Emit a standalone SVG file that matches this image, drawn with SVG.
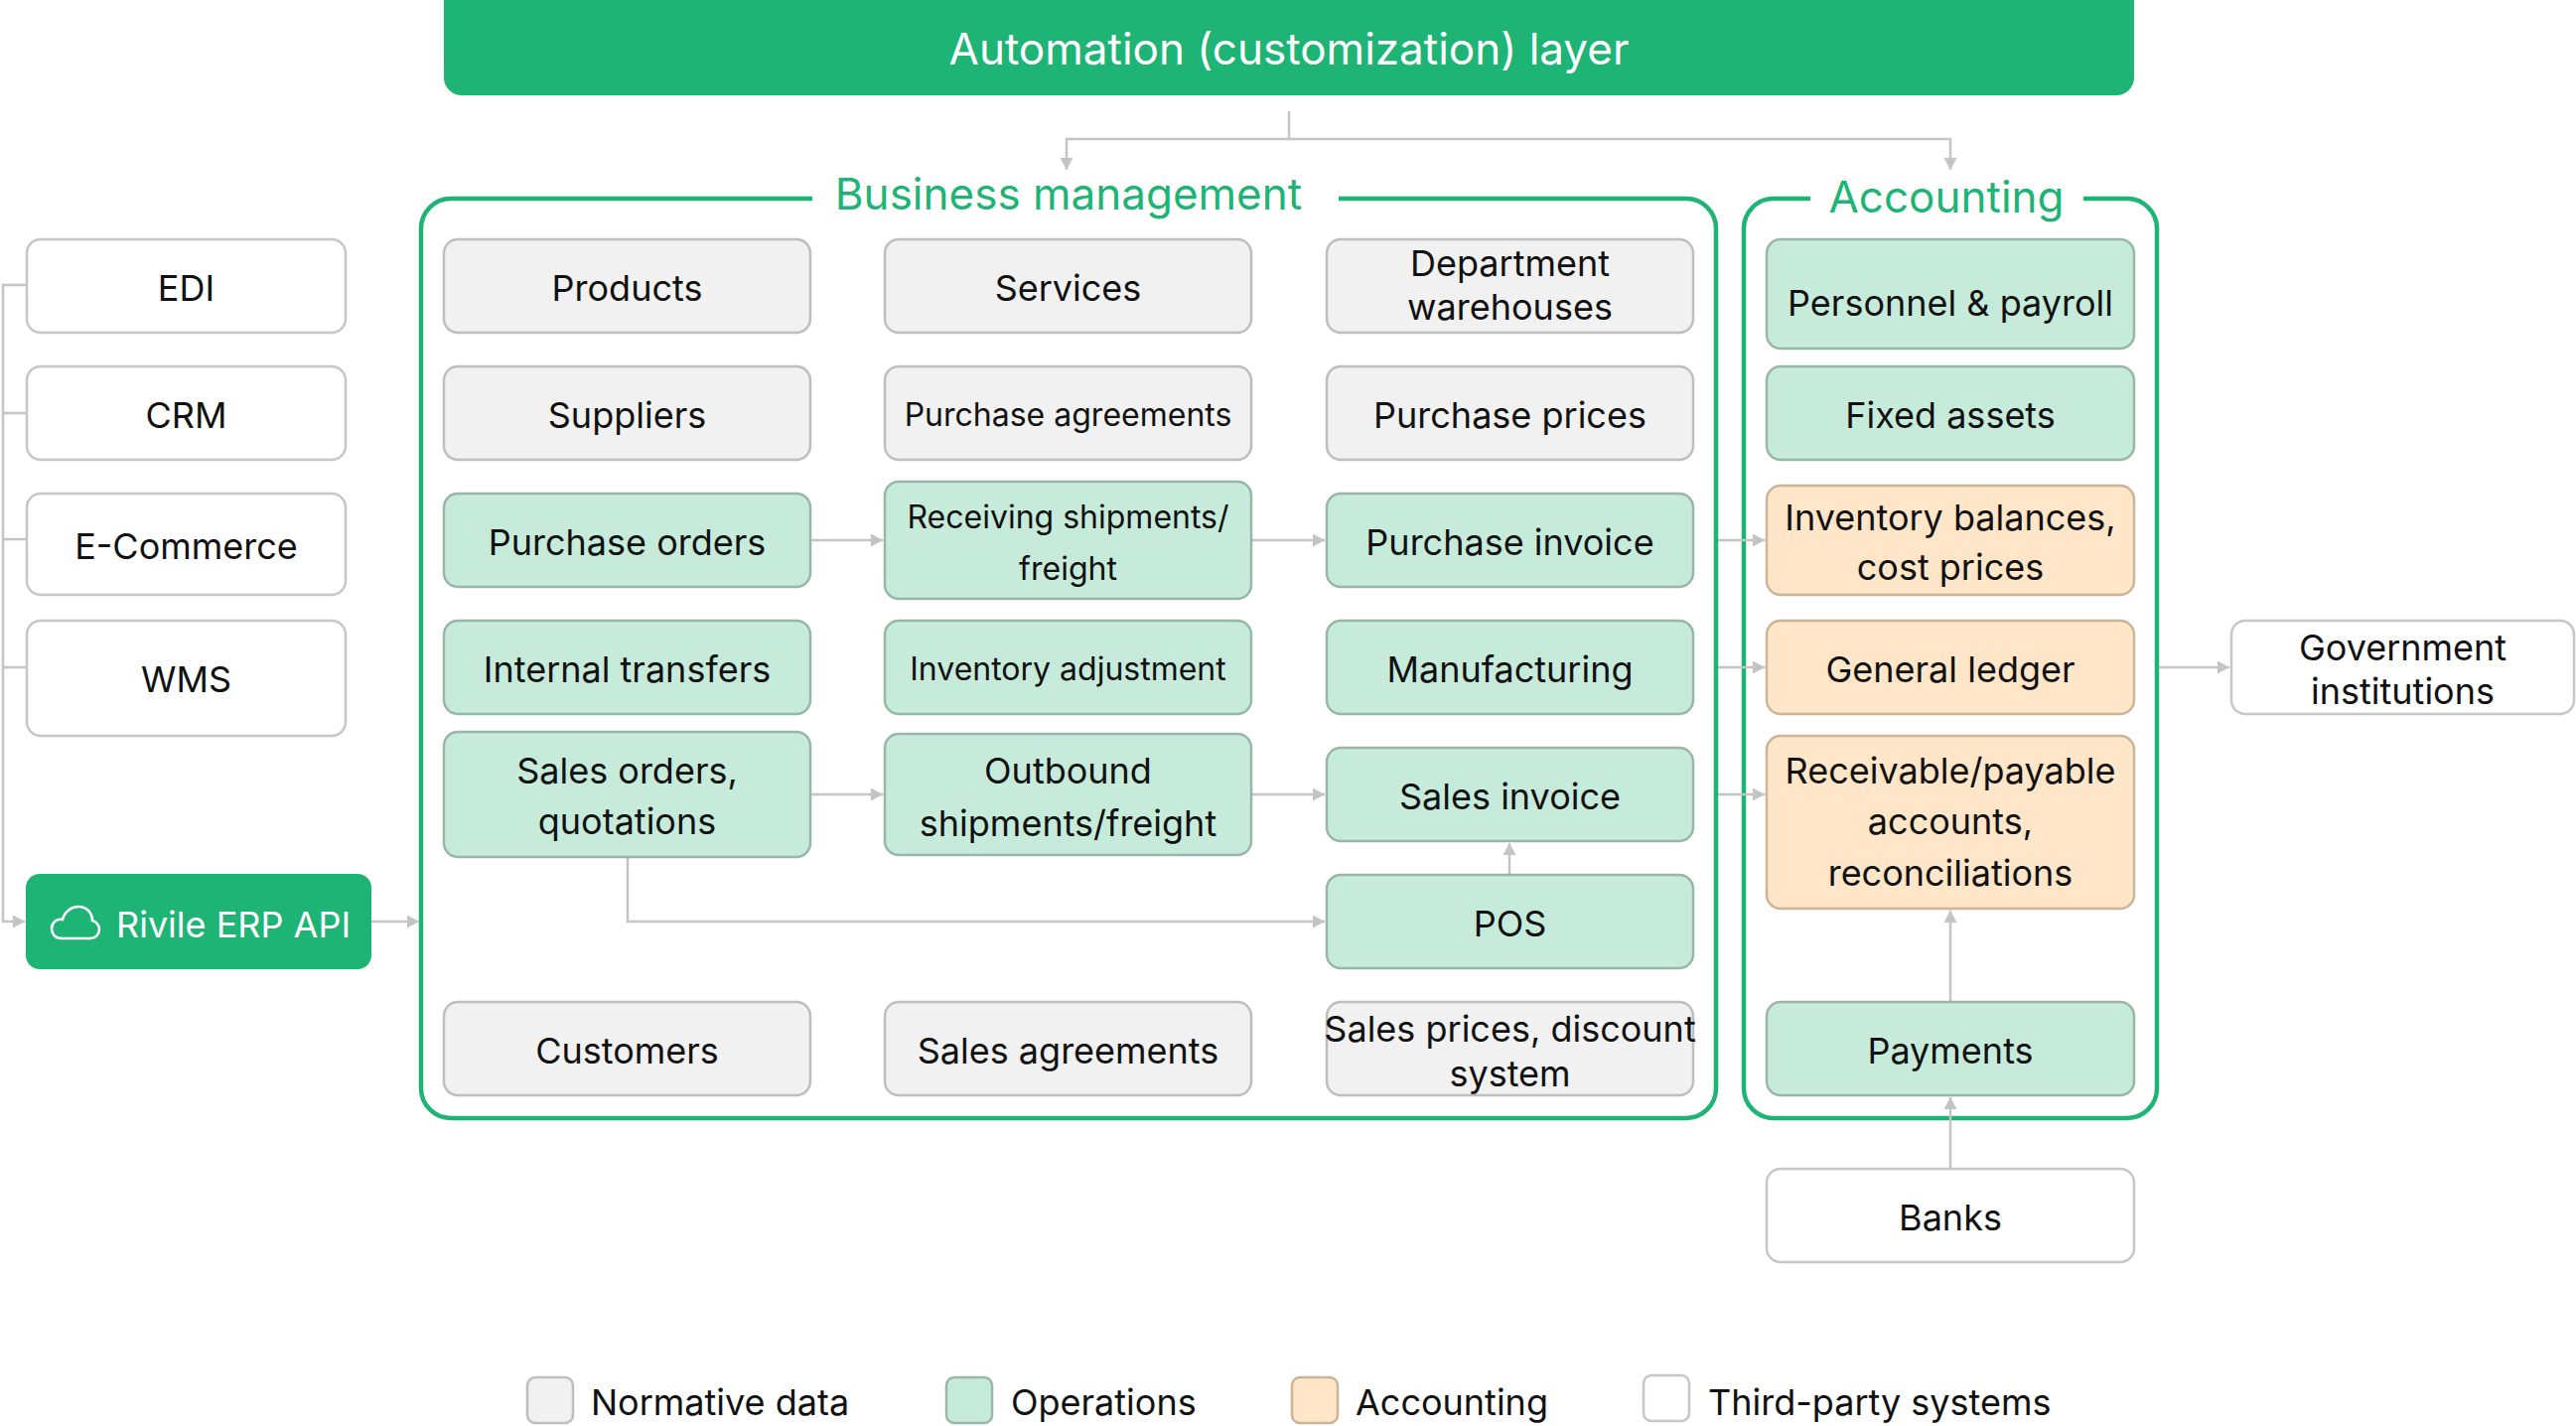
<svg xmlns="http://www.w3.org/2000/svg" width="2594" height="1436" viewBox="0 0 2594 1436">
<defs>
<style>
text{font-family:Inter,"Noto Sans","Liberation Sans",sans-serif;fill:#111;font-size:36px;text-anchor:middle;transform:translateY(1.5px)}
.sm{font-size:32px}
.norm{fill:#F1F1F1;stroke:#BEBEBE;stroke-width:2.5}
.ops{fill:#C7EBDB;stroke:#97B8A9;stroke-width:2.5}
.acc{fill:#FFE6C8;stroke:#CBB497;stroke-width:2.5}
.ext{fill:#FFFFFF;stroke:#C6C6C6;stroke-width:2.5}
.frame{fill:none;stroke:#1DB475;stroke-width:4.5}
.title{fill:#1DB475;font-size:44px}
.conn path{fill:none;stroke:#C4C4C4;stroke-width:2.5}
.leg{text-anchor:start}
</style>
<marker id="ah" markerUnits="userSpaceOnUse" markerWidth="14" markerHeight="14" refX="12" refY="6.5" orient="auto">
<path d="M0,0 L12,6.5 L0,13 Z" fill="#C4C4C4"/>
</marker>
</defs>
<rect width="2594" height="1436" fill="#FFFFFF"/>

<g id="automation">
<rect x="447" y="-20" width="1702" height="116" rx="18" fill="#1DB475"/>
<text x="1298" y="63" style="fill:#FFFFFF;font-size:44px">Automation (customization) layer</text>
</g>

<g id="business-frame">
<path class="frame" d="M818,200 H454 A30,30 0 0 0 424,230 V1096 A30,30 0 0 0 454,1126 H1698 A30,30 0 0 0 1728,1096 V230 A30,30 0 0 0 1698,200 H1348"/>
<text class="title" x="1076" y="209">Business management</text>
</g>
<g id="accounting-frame">
<path class="frame" d="M1823,200 H1786 A30,30 0 0 0 1756,230 V1096 A30,30 0 0 0 1786,1126 H2142 A30,30 0 0 0 2172,1096 V230 A30,30 0 0 0 2142,200 H2098"/>
<text class="title" x="1960" y="212">Accounting</text>
</g>

<g class="conn" id="connectors">
<path d="M1298,112 V140 H1074 V171" marker-end="url(#ah)"/>
<path d="M1298,140 H1964 V171" marker-end="url(#ah)"/>
<path d="M27,287 H3 V928 H25" marker-end="url(#ah)"/>
<path d="M3,416 H27"/>
<path d="M3,543 H27"/>
<path d="M3,672 H27"/>
<path d="M374,928 H422" marker-end="url(#ah)"/>
<path d="M816,544 H889" marker-end="url(#ah)"/>
<path d="M1260,544 H1334" marker-end="url(#ah)"/>
<path d="M816,800 H889" marker-end="url(#ah)"/>
<path d="M1260,800 H1334" marker-end="url(#ah)"/>
<path d="M632,863 V928 H1334" marker-end="url(#ah)"/>
<path d="M1520,881 V849" marker-end="url(#ah)"/>
<path d="M1730,544 H1777" marker-end="url(#ah)"/>
<path d="M1730,672 H1777" marker-end="url(#ah)"/>
<path d="M1730,800 H1777" marker-end="url(#ah)"/>
<path d="M2174,672 H2245" marker-end="url(#ah)"/>
<path d="M1964,1009 V917" marker-end="url(#ah)"/>
<path d="M1964,1177 V1105" marker-end="url(#ah)"/>
</g>

<g id="edi"><rect class="ext" x="27" y="241" width="321" height="94" rx="14"/><text x="187.5" y="301">EDI</text></g>
<g id="crm"><rect class="ext" x="27" y="369" width="321" height="94" rx="14"/><text x="187.5" y="429">CRM</text></g>
<g id="ecommerce"><rect class="ext" x="27" y="497" width="321" height="102" rx="14"/><text x="187.5" y="561">E-Commerce</text></g>
<g id="wms"><rect class="ext" x="27" y="625" width="321" height="116" rx="14"/><text x="187.5" y="695">WMS</text></g>
<g id="api">
<rect x="26" y="880" width="348" height="96" rx="14" fill="#1DB475"/>
<path d="M62,945 C55,945 52,940 52,935 C52,929 57,925 63,926 C65,918 72,913 79,913 C87,913 93,919 93,927 C97,928 100,932 100,936 C100,941 96,945 91,945 Z" fill="none" stroke="#FFFFFF" stroke-width="2.5"/>
<text x="117" y="942" style="fill:#FFFFFF;font-size:36px;text-anchor:start">Rivile ERP API</text>
</g>

<g id="products"><rect class="norm" x="447" y="241" width="369" height="94" rx="14"/><text x="631.5" y="301">Products</text></g>
<g id="services"><rect class="norm" x="891" y="241" width="369" height="94" rx="14"/><text x="1075.5" y="301">Services</text></g>
<g id="dept-warehouses"><rect class="norm" x="1336" y="241" width="369" height="94" rx="14"/><text x="1520.5" y="276">Department</text><text x="1520.5" y="320">warehouses</text></g>
<g id="suppliers"><rect class="norm" x="447" y="369" width="369" height="94" rx="14"/><text x="631.5" y="429">Suppliers</text></g>
<g id="purchase-agreements"><rect class="norm" x="891" y="369" width="369" height="94" rx="14"/><text class="sm" x="1075.5" y="427">Purchase agreements</text></g>
<g id="purchase-prices"><rect class="norm" x="1336" y="369" width="369" height="94" rx="14"/><text x="1520.5" y="429">Purchase prices</text></g>

<g id="purchase-orders"><rect class="ops" x="447" y="497" width="369" height="94" rx="14"/><text x="631.5" y="557">Purchase orders</text></g>
<g id="receiving"><rect class="ops" x="891" y="485" width="369" height="118" rx="14"/><text class="sm" x="1075.5" y="530">Receiving shipments/</text><text class="sm" x="1075.5" y="582">freight</text></g>
<g id="purchase-invoice"><rect class="ops" x="1336" y="497" width="369" height="94" rx="14"/><text x="1520.5" y="557">Purchase invoice</text></g>
<g id="internal-transfers"><rect class="ops" x="447" y="625" width="369" height="94" rx="14"/><text x="631.5" y="685">Internal transfers</text></g>
<g id="inventory-adjustment"><rect class="ops" x="891" y="625" width="369" height="94" rx="14"/><text class="sm" x="1075.5" y="683">Inventory adjustment</text></g>
<g id="manufacturing"><rect class="ops" x="1336" y="625" width="369" height="94" rx="14"/><text x="1520.5" y="685">Manufacturing</text></g>
<g id="sales-orders"><rect class="ops" x="447" y="737" width="369" height="126" rx="14"/><text x="631.5" y="787">Sales orders,</text><text x="631.5" y="838">quotations</text></g>
<g id="outbound"><rect class="ops" x="891" y="739" width="369" height="122" rx="14"/><text x="1075.5" y="787">Outbound</text><text x="1075.5" y="840">shipments/freight</text></g>
<g id="sales-invoice"><rect class="ops" x="1336" y="753" width="369" height="94" rx="14"/><text x="1520.5" y="813">Sales invoice</text></g>
<g id="pos"><rect class="ops" x="1336" y="881" width="369" height="94" rx="14"/><text x="1520.5" y="941">POS</text></g>

<g id="customers"><rect class="norm" x="447" y="1009" width="369" height="94" rx="14"/><text x="631.5" y="1069">Customers</text></g>
<g id="sales-agreements"><rect class="norm" x="891" y="1009" width="369" height="94" rx="14"/><text x="1075.5" y="1069">Sales agreements</text></g>
<g id="sales-prices"><rect class="norm" x="1336" y="1009" width="369" height="94" rx="14"/><text x="1520.5" y="1047">Sales prices, discount</text><text x="1520.5" y="1092">system</text></g>

<g id="personnel"><rect class="ops" x="1779" y="241" width="370" height="110" rx="14"/><text x="1964" y="316">Personnel &amp; payroll</text></g>
<g id="fixed-assets"><rect class="ops" x="1779" y="369" width="370" height="94" rx="14"/><text x="1964" y="429">Fixed assets</text></g>
<g id="inventory-balances"><rect class="acc" x="1779" y="489" width="370" height="110" rx="14"/><text x="1964" y="532">Inventory balances,</text><text x="1964" y="582">cost prices</text></g>
<g id="general-ledger"><rect class="acc" x="1779" y="625" width="370" height="94" rx="14"/><text x="1964" y="685">General ledger</text></g>
<g id="receivable"><rect class="acc" x="1779" y="741" width="370" height="174" rx="14"/><text x="1964" y="787">Receivable/payable</text><text x="1964" y="838.5">accounts,</text><text x="1964" y="890">reconciliations</text></g>
<g id="payments"><rect class="ops" x="1779" y="1009" width="370" height="94" rx="14"/><text x="1964" y="1069">Payments</text></g>
<g id="banks"><rect class="ext" x="1779" y="1177" width="370" height="94" rx="14"/><text x="1964" y="1237">Banks</text></g>
<g id="government"><rect class="ext" x="2247" y="625" width="345" height="94" rx="14"/><text x="2419.5" y="663">Government</text><text x="2419.5" y="707">institutions</text></g>

<g id="legend">
<rect class="norm" x="531" y="1387" width="46" height="46" rx="8"/><text class="leg" x="595" y="1423">Normative data</text>
<rect class="ops" x="953" y="1387" width="46" height="46" rx="8"/><text class="leg" x="1018" y="1423">Operations</text>
<rect class="acc" x="1301" y="1387" width="46" height="46" rx="8"/><text class="leg" x="1365" y="1423">Accounting</text>
<rect class="ext" x="1655" y="1385" width="46" height="46" rx="8"/><text class="leg" x="1720" y="1423">Third-party systems</text>
</g>
</svg>
